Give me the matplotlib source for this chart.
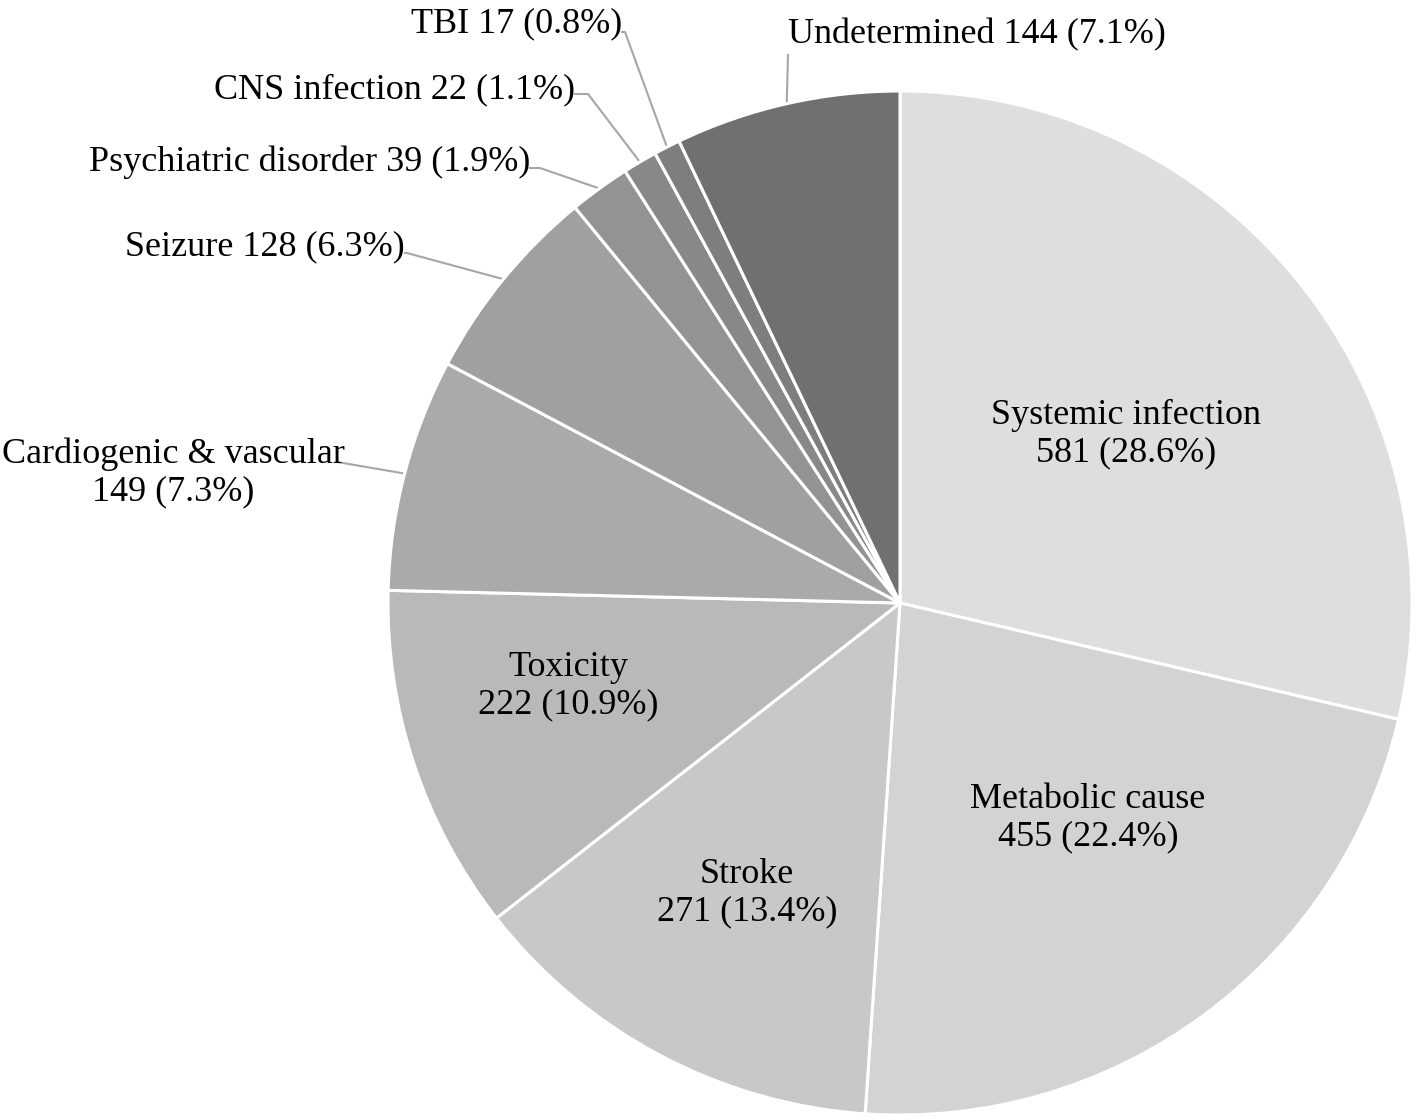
import numpy as np
import matplotlib
matplotlib.use('Agg')
import matplotlib.pyplot as plt

plt.rcParams['font.family'] = ['Liberation Serif', 'DejaVu Serif']

causes = ['Systemic infection', 'Metabolic cause', 'Stroke', 'Toxicity',
          'Cardiogenic & vascular', 'Seizure', 'Psychiatric disorder',
          'CNS infection', 'TBI', 'Undetermined']
counts = [581, 455, 271, 222, 149, 128, 39, 22, 17, 144]
pcts = [28.6, 22.4, 13.4, 10.9, 7.3, 6.3, 1.9, 1.1, 0.8, 7.1]
greys = ['#dedede', '#d3d3d3', '#c8c8c8', '#b9b9b9', '#aaaaaa',
         '#a0a0a0', '#939393', '#888888', '#7e7e7e', '#707070']

W, H = 1419, 1120
cx, cy, R = 900, 603, 512

fig = plt.figure(figsize=(W / 100, H / 100), dpi=100)
ax = fig.add_axes([0, 0, 1, 1])
ax.set_xlim(0, W)
ax.set_ylim(0, H)
ax.set_aspect('equal')
ax.axis('off')

wedges, _ = ax.pie(counts, colors=greys, startangle=90, counterclock=False,
                   center=(cx, H - cy), radius=R,
                   wedgeprops=dict(edgecolor='white', linewidth=2.2))
ax.set_xlim(0, W)
ax.set_ylim(0, H)

fs = 26

# labels inside the slices (pixel positions, y from top)
inside = {0: (1126, 434), 1: (1088, 818), 2: (747, 893), 3: (568, 686)}
for i, (px, py) in inside.items():
    ax.text(px, H - py, '%s\n%d (%.1f%%)' % (causes[i], counts[i], pcts[i]),
            ha='center', va='center', fontsize=fs, linespacing=1.15)

# outside labels: text anchor, alignment, elbow point of leader
outside = {
    4: ((173, 473), 'center', (337, 462)),
    5: ((405, 247), 'right', (407, 253)),
    6: ((530, 162), 'right', (540, 168)),
    7: ((575, 90), 'right', (588, 94)),
    8: ((622, 24), 'right', (625, 32)),
    9: ((977, 35), 'center', (788, 55)),
}
for i, ((tx, ty), ha, (ex, ey)) in outside.items():
    if i == 4:
        s = '%s\n%d (%.1f%%)' % (causes[i], counts[i], pcts[i])
    else:
        s = '%s %d (%.1f%%)' % (causes[i], counts[i], pcts[i])
    ax.text(tx, H - ty, s, ha=ha, va='center', fontsize=fs, linespacing=1.15)
    w = wedges[i]
    ang = np.deg2rad((w.theta1 + w.theta2) / 2)
    x0 = cx + R * np.cos(ang)
    y0 = (H - cy) + R * np.sin(ang)
    xs = [x0, ex]
    ys = [y0, H - ey]
    if ha == 'right':
        xs.append(tx)
        ys.append(H - ey)
    ax.plot(xs, ys, color='#a6a6a6', lw=1.5, zorder=0.5)

plt.savefig('out.png', dpi=100)
